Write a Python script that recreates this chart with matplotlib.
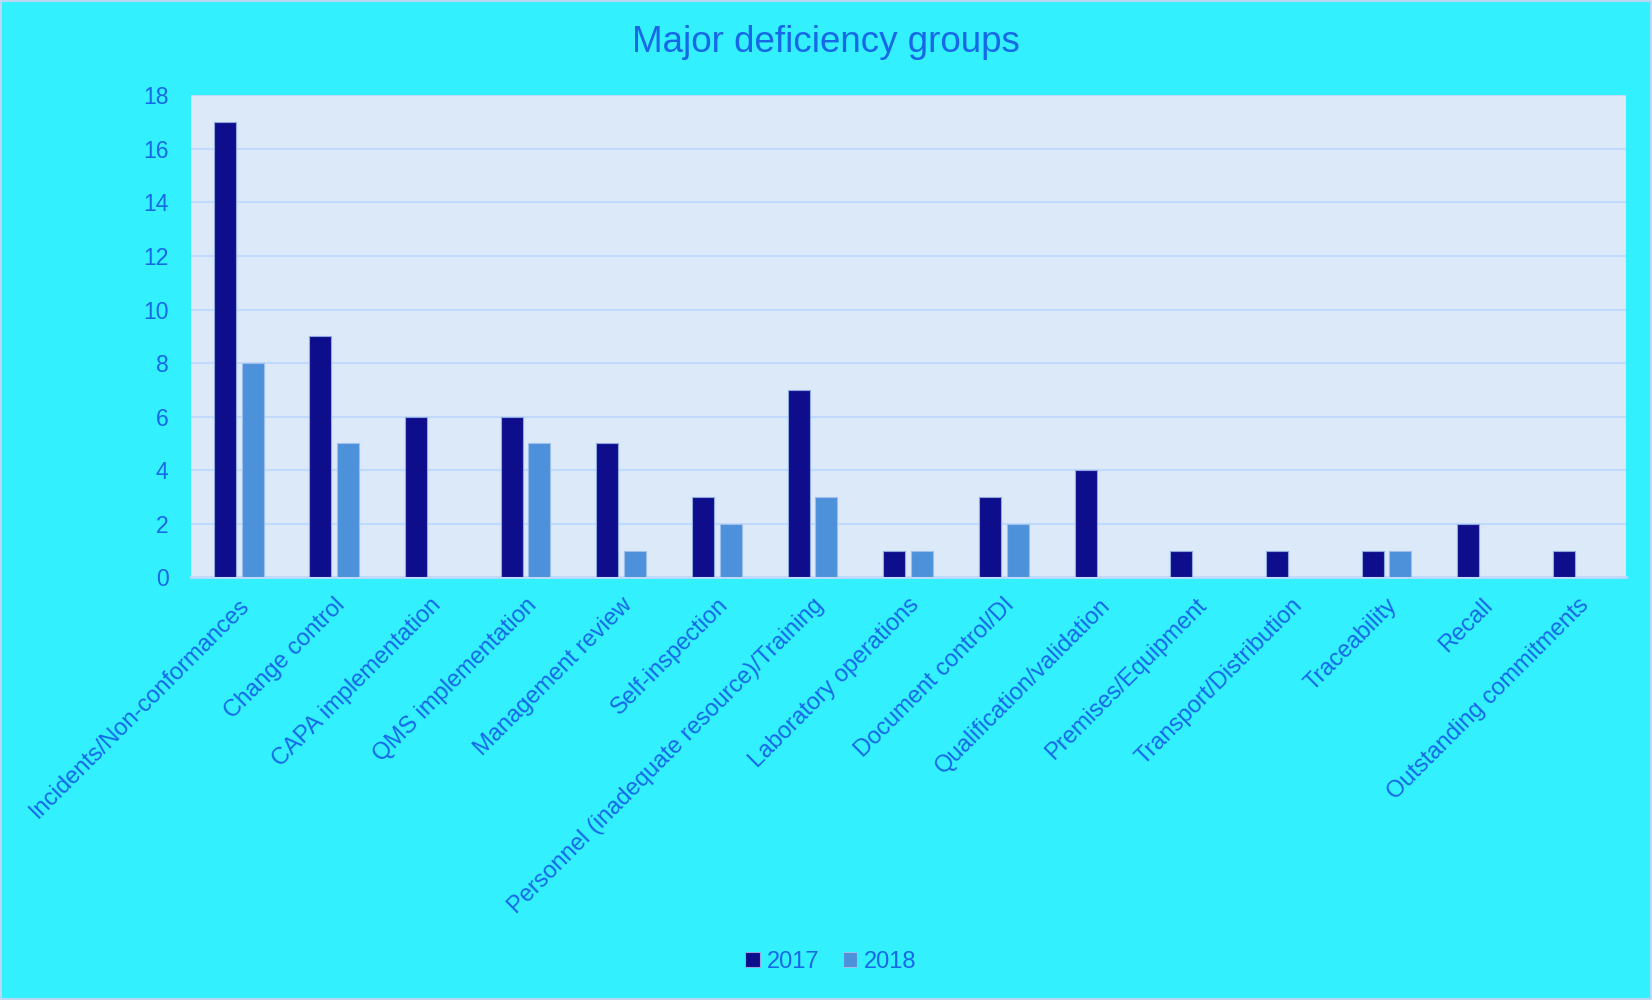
import matplotlib.pyplot as plt
import numpy as np

categories = ["Incidents/Non-conformances", "Change control", "CAPA implementation",
              "QMS implementation", "Management review", "Self-inspection",
              "Personnel (inadequate resource)/Training", "Laboratory operations",
              "Document control/DI", "Qualification/validation", "Premises/Equipment",
              "Transport/Distribution", "Traceability", "Recall", "Outstanding commitments"]
y2017 = [17, 9, 6, 6, 5, 3, 7, 1, 3, 4, 1, 1, 1, 2, 1]
y2018 = [8, 5, 0, 5, 1, 2, 3, 1, 2, 0, 0, 0, 1, 0, 0]

text_col = "#1668E6"
plt.rcParams['font.family'] = ['Liberation Sans', 'DejaVu Sans']

def make_chart():
    fig = plt.figure(figsize=(16.52, 10), dpi=100, facecolor="#33F0FF",
                     edgecolor="#BBD6F0", linewidth=1.5)
    ax = fig.add_axes([0.1155, 0.4226, 0.8685, 0.4822])
    ax.set_facecolor("#DCE9F8")

    x = np.arange(len(categories))
    w = 0.23
    off = 0.145
    # leave zero values out so no empty bar outline is drawn
    v17 = [v if v else np.nan for v in y2017]
    v18 = [v if v else np.nan for v in y2018]
    ax.bar(x - off, v17, w, color="#0E0E8C", edgecolor="#8FA8E0", linewidth=0.8, label="2017", zorder=3)
    ax.bar(x + off, v18, w, color="#4D91DA", edgecolor="#9FC0EC", linewidth=0.8, label="2018", zorder=3)

    ax.set_xlim(-0.5, len(categories) - 0.5)
    ax.set_ylim(0, 18)
    ax.set_yticks(range(0, 19, 2))
    ax.yaxis.grid(True, color="#BFD9FF", linewidth=1.5, zorder=0)
    for s in ["top", "right", "left"]:
        ax.spines[s].set_visible(False)
    ax.spines["bottom"].set_color("#BFD9FF")
    ax.spines["bottom"].set_linewidth(2)

    ax.set_xticks(x)
    ax.set_xticklabels(categories, rotation=45, ha="right", rotation_mode="anchor",
                       fontsize=17, color=text_col)
    ax.tick_params(axis="x", length=0, pad=12)
    ax.tick_params(axis="y", length=0, pad=16, labelsize=16.5, labelcolor=text_col)

    fig.text(0.5, 0.957, "Major deficiency groups", ha="center", va="center",
             fontsize=26.5, color=text_col)
    fig.legend(loc="center", bbox_to_anchor=(0.503, 0.038), ncol=2, frameon=False,
               fontsize=17, labelcolor=text_col, handlelength=0.6, handleheight=0.6,
               handletextpad=0.3, columnspacing=1.0)

    fig.savefig("out.png", dpi=100, facecolor=fig.get_facecolor(), edgecolor=fig.get_edgecolor())

def main():
    make_chart()

if __name__ == '__main__':
    main()
